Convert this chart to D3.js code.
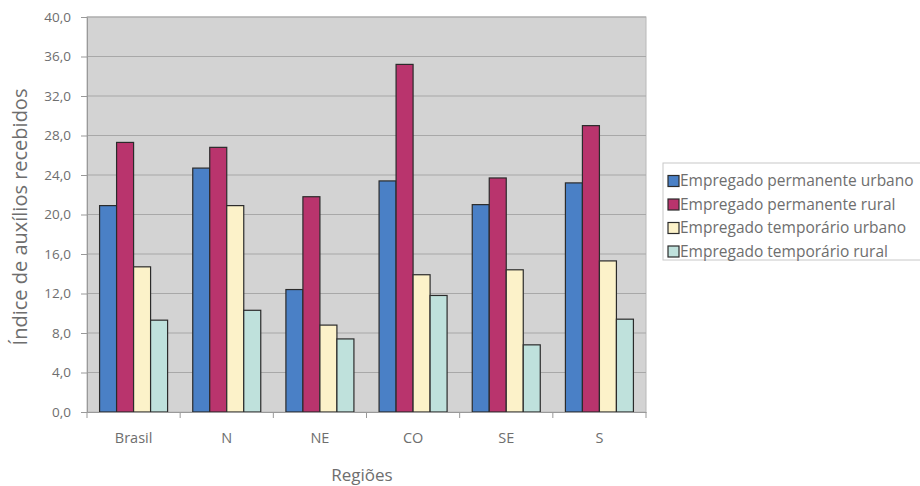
<!DOCTYPE html>
<html><head><meta charset="utf-8">
<script src="https://cdn.jsdelivr.net/npm/d3@7"></script>
<style>body{margin:0;background:#fff;} text{font-family:"Open Sans",sans-serif;}</style>
</head><body>
<svg id="c" width="920" height="486"></svg>
<script>
const categories = ["Brasil","N","NE","CO","SE","S"];
const seriesNames = ["Empregado permanente urbano","Empregado permanente rural","Empregado temporário urbano","Empregado temporário rural"];
const permUrbano = [20.9, 24.7, 12.4, 23.4, 21.0, 23.2];
const permRural  = [27.3, 26.8, 21.8, 35.2, 23.7, 29.0];
const tempUrbano = [14.7, 20.9, 8.8, 13.9, 14.4, 15.3];
const tempRural  = [9.3, 10.3, 7.4, 11.8, 6.8, 9.4];
const yTicks = [0,4,8,12,16,20,24,28,32,36,40];
const colors = ["#4a80c6","#b9346d","#fcf2c9","#bfe1dc"];
const series = [permUrbano, permRural, tempUrbano, tempRural];
const txt = "#6e6e6e";

const svg = d3.select("#c");
const L=87, R=646, T=17, B=412;
const x = d3.scaleBand().domain(categories).range([L,R]).paddingInner(0.27).paddingOuter(0.135);
const xb = d3.scaleBand().domain(categories).range([L,R]);
const y = d3.scaleLinear().domain([0,40]).range([B,T]);
const xs = d3.scaleBand().domain(d3.range(4)).range([0,x.bandwidth()]);

svg.append("rect").attr("x",L).attr("y",T).attr("width",R-L).attr("height",B-T).attr("fill","#d3d3d3").attr("stroke","#b8b8b8");
svg.append("g").selectAll("line").data(yTicks.slice(1)).join("line")
  .attr("x1",L).attr("x2",R).attr("y1",d=>y(d)).attr("y2",d=>y(d)).attr("stroke","#a8a8a8").attr("stroke-width",1.2);

const g = svg.append("g");
categories.forEach((c,i)=>{
  series.forEach((s,j)=>{
    g.append("rect").attr("x",x(c)+xs(j)).attr("y",y(s[i])).attr("width",xs.bandwidth()).attr("height",B-y(s[i]))
     .attr("fill",colors[j]).attr("stroke","#2b2b2b").attr("stroke-width",1.2);
  });
});

const ya = svg.append("g").attr("transform",`translate(${L},0)`)
  .call(d3.axisLeft(y).tickValues(yTicks).tickSize(6).tickPadding(10).tickFormat(d=>d3.format(".1f")(d).replace(".",",")));
ya.select(".domain").attr("stroke","#999");
ya.selectAll(".tick line").attr("stroke","#999");
ya.selectAll("text").attr("fill",txt).style("font-size","13.5px").style("font-family","'Open Sans',sans-serif");

const xa = svg.append("g").attr("transform",`translate(0,${B})`)
  .call(d3.axisBottom(xb).tickSize(0).tickPadding(21));
xa.select(".domain").attr("stroke","#999");
xa.selectAll("text").attr("fill",txt).style("font-size","14.5px").style("font-family","'Open Sans',sans-serif");
svg.append("g").selectAll("line").data(categories.slice(1).concat(["end"])).join("line")
  .attr("x1",d=>d==="end"?R:xb(d)).attr("x2",d=>d==="end"?R:xb(d)).attr("y1",B).attr("y2",B+6).attr("stroke","#999");
svg.append("line").attr("x1",L).attr("x2",L).attr("y1",B).attr("y2",B+6).attr("stroke","#999");

svg.append("text").attr("transform","translate(27,217) rotate(-90)").attr("text-anchor","middle")
  .attr("fill",txt).style("font-size","20px").text("Índice de auxílios recebidos");
svg.append("text").attr("x",362).attr("y",481).attr("text-anchor","middle")
  .attr("fill",txt).style("font-size","17px").text("Regiões");

const lg = svg.append("g");
lg.append("rect").attr("x",663).attr("y",163).attr("width",262).attr("height",97).attr("fill","#fff").attr("stroke","#c8c8c8");
seriesNames.forEach((n,j)=>{
  const cy = 181 + j*23.5;
  lg.append("rect").attr("x",668).attr("y",cy-5.5).attr("width",11).attr("height",11).attr("fill",colors[j]).attr("stroke","#2b2b2b").attr("stroke-width",1.2);
  lg.append("text").attr("x",680).attr("y",cy).attr("dy","0.35em").attr("fill",txt).style("font-size","15.5px").text(n);
});
</script>
</body></html>
